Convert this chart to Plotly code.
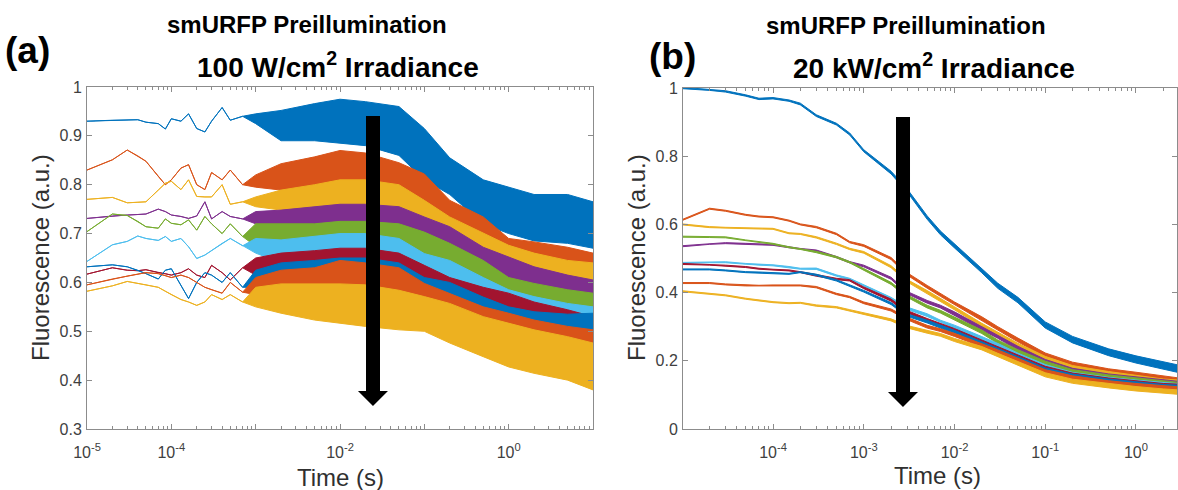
import plotly.graph_objects as go

# ---------------- data ----------------
COLORS = ["#0072BD", "#D95319", "#EDB120", "#7E2F8E", "#77AC30",
          "#4DBEEE", "#A2142F", "#0072BD", "#D95319", "#EDB120"]

# Panel (a): 100 W/cm^2 — early part is a single wiggly line
T_A_LINE = [1e-5, 2e-5, 3e-5, 4e-5, 5e-5, 7e-5, 8.5e-5, 1e-4, 1.3e-4, 1.6e-4,
            2e-4, 2.5e-4, 3e-4, 4e-4, 5e-4, 7e-4]
A_LINE = [
    [.930, .932, .933, .933, .928, .925, .914, .935, .930, .945, .915, .908, .930, .958, .932, .940],
    [.830, .851, .871, .859, .848, .817, .800, .810, .834, .841, .800, .790, .825, .810, .830, .800],
    [.770, .774, .763, .764, .765, .789, .803, .807, .790, .810, .776, .775, .775, .800, .760, .765],
    [.731, .736, .738, .739, .740, .750, .745, .738, .735, .731, .736, .765, .730, .745, .735, .730],
    [.704, .740, .737, .725, .714, .711, .730, .721, .718, .728, .707, .735, .720, .700, .720, .694],
    [.643, .677, .684, .695, .690, .686, .694, .684, .690, .673, .649, .656, .665, .680, .690, .675],
    [.617, .630, .625, .624, .626, .620, .618, .615, .620, .628, .615, .610, .635, .620, .605, .630],
    [.632, .636, .632, .625, .618, .607, .625, .628, .593, .567, .600, .620, .615, .600, .620, .590],
    [.595, .607, .613, .617, .620, .618, .614, .610, .615, .610, .600, .590, .585, .578, .600, .580],
    [.582, .593, .602, .598, .595, .590, .582, .575, .565, .560, .553, .560, .575, .565, .575, .560],
]
# later part: noisy band, upper and lower envelope
T_A_BAND = [1e-3, 2e-3, 5e-3, 1e-2, 2e-2, 5e-2, 0.1, 0.2, 0.5, 1, 2, 5, 10]
A_HI = [
    [.945, .952, .966, .975, .970, .960, .915, .855, .810, .795, .780, .780, .765],
    [.820, .843, .857, .870, .865, .845, .822, .768, .734, .690, .683, .672, .660],
    [.775, .789, .800, .810, .810, .800, .768, .734, .700, .676, .660, .645, .640],
    [.745, .748, .755, .760, .760, .755, .734, .714, .672, .652, .632, .615, .605],
    [.720, .720, .720, .725, .725, .720, .703, .680, .645, .610, .598, .585, .578],
    [.690, .687, .694, .700, .700, .690, .659, .645, .610, .585, .571, .557, .550],
    [.650, .660, .665, .670, .670, .660, .635, .610, .590, .578, .560, .544, .530],
    [.625, .640, .645, .650, .650, .640, .610, .600, .570, .550, .540, .535, .537],
    [.610, .625, .630, .645, .640, .630, .598, .578, .550, .537, .523, .510, .503],
    [.590, .597, .597, .597, .595, .584, .571, .557, .530, .516, .503, .489, .476],
]
A_LO = [
    [.925, .890, .890, .885, .880, .860, .810, .780, .720, .700, .685, .680, .670],
    [.795, .789, .785, .785, .780, .770, .740, .700, .660, .625, .615, .605, .590],
    [.755, .748, .740, .740, .735, .720, .690, .655, .625, .600, .590, .580, .570],
    [.720, .708, .700, .700, .695, .690, .665, .640, .605, .585, .565, .550, .540],
    [.674, .670, .667, .665, .660, .655, .635, .610, .580, .550, .535, .525, .515],
    [.660, .640, .625, .625, .620, .615, .600, .580, .550, .525, .510, .495, .490],
    [.615, .610, .610, .605, .600, .595, .575, .560, .535, .520, .505, .490, .475],
    [.590, .585, .580, .580, .575, .570, .555, .540, .515, .500, .490, .480, .470],
    [.575, .570, .565, .565, .560, .550, .530, .510, .485, .465, .455, .445, .430],
    [.550, .537, .523, .516, .510, .503, .500, .476, .448, .427, .414, .400, .380],
]

# Panel (b): 20 kW/cm^2 — centre of each trace and width of its noise band
T_B = [1e-5, 2e-5, 3e-5, 5e-5, 7e-5, 1e-4, 1.5e-4, 2e-4, 3e-4, 5e-4, 7e-4, 1e-3, 2e-3,
       3e-3, 5e-3, 7e-3, 1e-2, 2e-2, 3e-2, 5e-2, 0.1, 0.2, 0.5, 1, 2, 3]
B_MID = [
    [1.0, .995, .990, .978, .968, .970, .963, .953, .919, .894, .865, .816, .752, .700, .620, .575, .537, .465, .420, .378, .305, .262, .225, .204, .186, .176],
    [.613, .646, .640, .628, .623, .621, .611, .600, .592, .572, .548, .538, .500, .455, .417, .393, .368, .324, .295, .261, .217, .190, .170, .160, .148, .143],
    [.600, .592, .590, .589, .588, .587, .574, .572, .562, .543, .528, .518, .476, .435, .402, .378, .354, .305, .280, .246, .207, .180, .162, .152, .140, .137],
    [.536, .543, .545, .543, .541, .540, .533, .528, .523, .504, .489, .478, .442, .400, .373, .359, .339, .295, .271, .237, .198, .172, .155, .146, .136, .133],
    [.564, .563, .562, .553, .548, .543, .533, .528, .519, .504, .489, .468, .427, .390, .359, .344, .324, .285, .256, .227, .193, .168, .152, .143, .133, .130],
    [.487, .489, .489, .484, .482, .480, .475, .470, .470, .450, .440, .421, .383, .354, .334, .315, .300, .266, .246, .217, .183, .160, .145, .137, .129, .126],
    [.484, .482, .479, .475, .470, .467, .465, .460, .450, .440, .436, .414, .378, .344, .320, .305, .290, .256, .237, .212, .178, .158, .143, .135, .127, .125],
    [.468, .468, .465, .460, .459, .457, .455, .460, .452, .436, .421, .404, .368, .334, .315, .300, .285, .251, .232, .207, .173, .155, .140, .132, .124, .122],
    [.428, .428, .424, .421, .420, .421, .421, .421, .416, .396, .387, .370, .349, .324, .300, .290, .276, .246, .227, .202, .168, .150, .135, .127, .120, .117],
    [.404, .396, .392, .382, .377, .372, .369, .370, .362, .357, .348, .338, .320, .300, .285, .276, .261, .237, .217, .193, .159, .140, .127, .118, .111, .108],
]
B_W_TOP = [.004, .004, .004, .004, .004, .004, .004, .005, .005, .005, .006, .006, .008,
           .009, .010, .011, .012, .014, .015, .016, .018, .019, .020, .021, .022, .022]
B_W_REST = [.003, .003, .003, .003, .003, .003, .003, .003, .004, .004, .004, .005, .006,
            .007, .008, .008, .009, .010, .010, .011, .012, .012, .013, .013, .013, .013]

# ticks
A_XTICKS = [1e-5, 1e-4, 1e-3, 1e-2, 1e-1, 1, 10]
A_XTEXT = ["10<sup>-5</sup>", "10<sup>-4</sup>", "", "10<sup>-2</sup>", "", "10<sup>0</sup>", ""]
A_YTICKS = [0.3, 0.4, 0.5, 0.6, 0.7, 0.8, 0.9, 1.0]
A_YTEXT = ["0.3", "0.4", "0.5", "0.6", "0.7", "0.8", "0.9", "1"]
B_XTICKS = [1e-4, 1e-3, 1e-2, 1e-1, 1]
B_XTEXT = ["10<sup>-4</sup>", "10<sup>-3</sup>", "10<sup>-2</sup>", "10<sup>-1</sup>", "10<sup>0</sup>"]
B_YTICKS = [0, 0.2, 0.4, 0.6, 0.8, 1.0]
B_YTEXT = ["0", "0.2", "0.4", "0.6", "0.8", "1"]

# ---------------- figure ----------------
W, H = 1178, 490
fig = go.Figure()


def band(t, hi, lo, color, xa, ya):
    fig.add_trace(go.Scatter(
        x=list(t) + list(t)[::-1], y=list(hi) + list(lo)[::-1],
        mode="lines", fill="toself", fillcolor=color,
        line=dict(color=color, width=1), xaxis=xa, yaxis=ya,
        hoverinfo="skip", showlegend=False))


for i in range(10):
    t = T_A_LINE + T_A_BAND
    hi = A_LINE[i] + A_HI[i]
    lo = A_LINE[i] + A_LO[i]
    band(t, hi, lo, COLORS[i], "x", "y")

for i in range(10):
    w = B_W_TOP if i == 0 else B_W_REST
    hi = [m + d / 2 for m, d in zip(B_MID[i], w)]
    lo = [m - d / 2 for m, d in zip(B_MID[i], w)]
    band(T_B, hi, lo, COLORS[i], "x2", "y2")


def minor_vals(lo_exp, hi_exp):
    return [k * 10.0 ** e for e in range(lo_exp, hi_exp) for k in range(2, 10)]


AX = "#8c8c8c"
FONT = "Liberation Sans, Arial, Helvetica, sans-serif"
TICKFONT = dict(family=FONT, size=16, color="#404040")
common = dict(showline=True, linecolor=AX, linewidth=1, mirror="ticks",
              ticks="inside", ticklen=5, tickcolor=AX, tickwidth=1, automargin=False,
              showgrid=False, zeroline=False, tickfont=TICKFONT)

fig.update_layout(
    width=W, height=H, margin=dict(l=0, r=0, t=0, b=0, pad=0, autoexpand=False),
    paper_bgcolor="white", plot_bgcolor="white", showlegend=False,
    xaxis=dict(common, type="log", range=[-5, 1], domain=[87 / W, 593 / W], anchor="y",
               tickmode="array", tickvals=A_XTICKS, ticktext=A_XTEXT, ticklabelstandoff=9,
               minor=dict(tickmode="array", tickvals=minor_vals(-5, 1), ticks="inside",
                          ticklen=3, tickcolor=AX)),
    yaxis=dict(common, range=[0.3, 1], domain=[1 - 429 / H, 1 - 87 / H], anchor="x",
               tickmode="array", tickvals=A_YTICKS, ticktext=A_YTEXT, ticklabelstandoff=1),
    xaxis2=dict(common, type="log", range=[-4.992, 0.452], domain=[683 / W, 1177 / W], anchor="y2",
                tickmode="array", tickvals=B_XTICKS, ticktext=B_XTEXT, ticklabelstandoff=9,
                minor=dict(tickmode="array", tickvals=minor_vals(-5, 1), ticks="inside",
                           ticklen=3, tickcolor=AX)),
    yaxis2=dict(common, range=[0, 1], domain=[1 - 429 / H, 1 - 88 / H], anchor="x2",
                tickmode="array", tickvals=B_YTICKS, ticktext=B_YTEXT, ticklabelstandoff=1),
)


def ann(text, x, y, size, bold=False, color="#000", angle=0):
    fig.add_annotation(text=f"<b>{text}</b>" if bold else text,
                       x=x / W, y=1 - y / H, xref="paper", yref="paper",
                       xanchor="center", yanchor="middle", showarrow=False,
                       textangle=angle, font=dict(family=FONT, size=size, color=color))


ann("smURFP Preillumination", 307, 25, 24, bold=True)
ann("100 W/cm<sup>2</sup> Irradiance", 338, 65, 28, bold=True)
ann("smURFP Preillumination", 906, 26, 24, bold=True)
ann("20 kW/cm<sup>2</sup> Irradiance", 934, 66, 28, bold=True)
ann("(a)", 27, 50, 37, bold=True)
ann("(b)", 672, 57, 37, bold=True)
ann("Fluorescence (a.u.)", 40, 258, 24, color="#303030", angle=-90)
ann("Fluorescence (a.u.)", 636, 258, 24, color="#303030", angle=-90)
ann("Time (s)", 340, 477, 24, color="#303030")
ann("Time (s)", 937, 475, 24, color="#303030")


def arrow(xc, ytop, ytip):
    sh, hw, hh = 7, 15, 15
    pts = [(xc - sh, ytop), (xc + sh, ytop), (xc + sh, ytip - hh), (xc + hw, ytip - hh),
           (xc, ytip), (xc - hw, ytip - hh), (xc - sh, ytip - hh)]
    path = "M " + " L ".join(f"{x / W:.5f},{1 - y / H:.5f}" for x, y in pts) + " Z"
    fig.add_shape(type="path", path=path, xref="paper", yref="paper",
                  fillcolor="black", line=dict(width=0), layer="above")


arrow(373, 116, 406)
arrow(903, 117, 407)

fig.write_html("out.html")
